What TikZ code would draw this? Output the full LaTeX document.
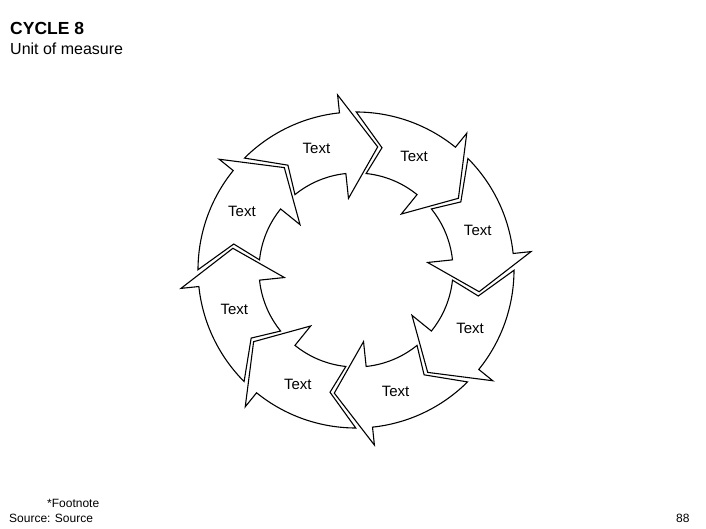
\documentclass[tikz,border=0pt]{standalone}
\usepackage{fontspec}
\setmainfont{Liberation Sans}
\usetikzlibrary{positioning}

\begin{document}
\begin{tikzpicture}[
    x=1pt, y=1pt,
    cyclearrow/.style={draw=black, fill=white, line width=1.1pt, line join=miter},
    lbl/.style={font=\fontsize{15}{18}\selectfont},
    note/.style={anchor=base west, inner sep=0pt, font=\fontsize{12}{14}\selectfont}
]
    \useasboundingbox (0,0) rectangle (706,-529);

    % Title
    \node[anchor=base west, inner sep=0pt, font=\bfseries\fontsize{17.5}{20}\selectfont] (title) at (10,-35) {CYCLE 8};
    \node[anchor=base west, inner sep=0pt, font=\fontsize{16}{19}\selectfont] (unit) at (10,-55) {Unit of measure};

    % Cycle of eight arrows
    \begin{scope}[shift={(356,-270)}]
        \foreach \t [count=\i] in {80,35,-10,-55,-100,-145,-190,-235} {
            \draw[cyclearrow] ({\t+54.9}:158) arc[start angle=\t+54.9, end angle=\t+16, radius=158]
                -- ({\t+16}:176) -- (\t:125) -- ({\t+16}:72) -- ({\t+16}:97)
                arc[start angle=\t+16, end angle=\t+49, radius=97]
                -- ({\t+43}:125) -- cycle;
            \node[lbl] (lbl\i) at ({\t+28}:128) {Text};
        }
    \end{scope}

    % Footer
    \node[note] (foot) at (47,-507) {*Footnote};
    \node[note] (src) at (9,-522) {Source: Source};
    \node[note] (page) at (676,-522) {88};

\end{tikzpicture}
\end{document}
